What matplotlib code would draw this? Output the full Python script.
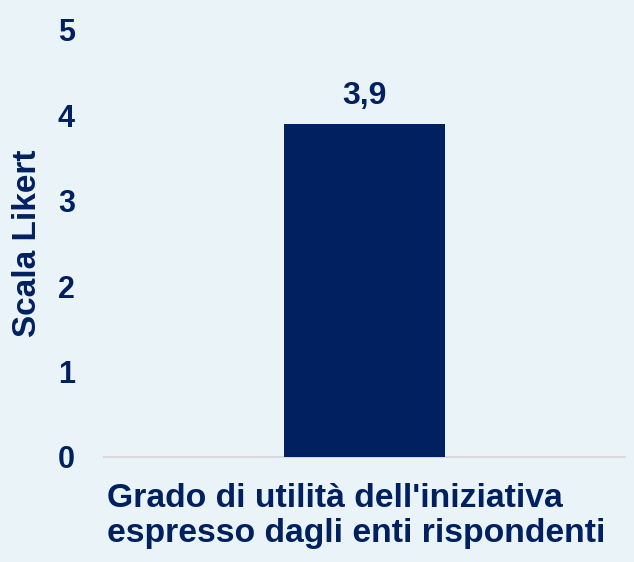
import matplotlib.pyplot as plt
import matplotlib.transforms as mtransforms

# dati
categories = ["Grado di utilità dell'iniziativa\nespresso dagli enti rispondenti"]
values = [3.9]
value_labels = ["3,9"]
yticks = [0, 1, 2, 3, 4, 5]

navy = "#002060"
bg = "#EAF4F8"

plt.rcParams['font.family'] = ['Liberation Sans', 'DejaVu Sans']

fig = plt.figure(figsize=(6.34, 5.62), dpi=100, facecolor=bg)
ax = fig.add_axes([0.164, 0.187, 0.822, 0.76], facecolor=bg)

x = list(range(len(categories)))
bars = ax.bar(x, values, width=0.31, color=navy, zorder=3)

for b, lab in zip(bars, value_labels):
    ax.annotate(lab, (b.get_x() + b.get_width() / 2, b.get_height()),
                xytext=(0, 9), textcoords="offset points",
                ha="center", va="bottom", fontsize=23, fontweight="bold", color=navy)

ax.set_xlim(-0.5, 0.5)
ax.set_ylim(0, 5)
ax.set_yticks(yticks)
ax.set_yticklabels([str(t) for t in yticks], fontsize=22, fontweight="bold", color=navy)
ax.set_xticks(x)
ax.set_xticklabels(categories, fontsize=24.3, fontweight="bold", color=navy,
                   linespacing=1.15, multialignment="left")
ax.tick_params(axis="both", length=0)
ax.tick_params(axis="y", pad=21)
ax.tick_params(axis="x", pad=19)

# spostamento leggero a sinistra dell'etichetta
shift = mtransforms.ScaledTranslation(-8 / 100, 0, fig.dpi_scale_trans)
for lbl in ax.get_xticklabels():
    lbl.set_transform(lbl.get_transform() + shift)

# titolo asse y
fig.text(28 / 634, 0.187 + 0.76 / 2, "Scala Likert", rotation=90,
         ha="center", va="center", fontsize=24, fontweight="bold", color=navy)

for s in ["top", "right", "left"]:
    ax.spines[s].set_visible(False)
ax.spines["bottom"].set_color("#D9D9D9")
ax.spines["bottom"].set_linewidth(1.5)

fig.savefig("out.png", dpi=100, facecolor=bg)
